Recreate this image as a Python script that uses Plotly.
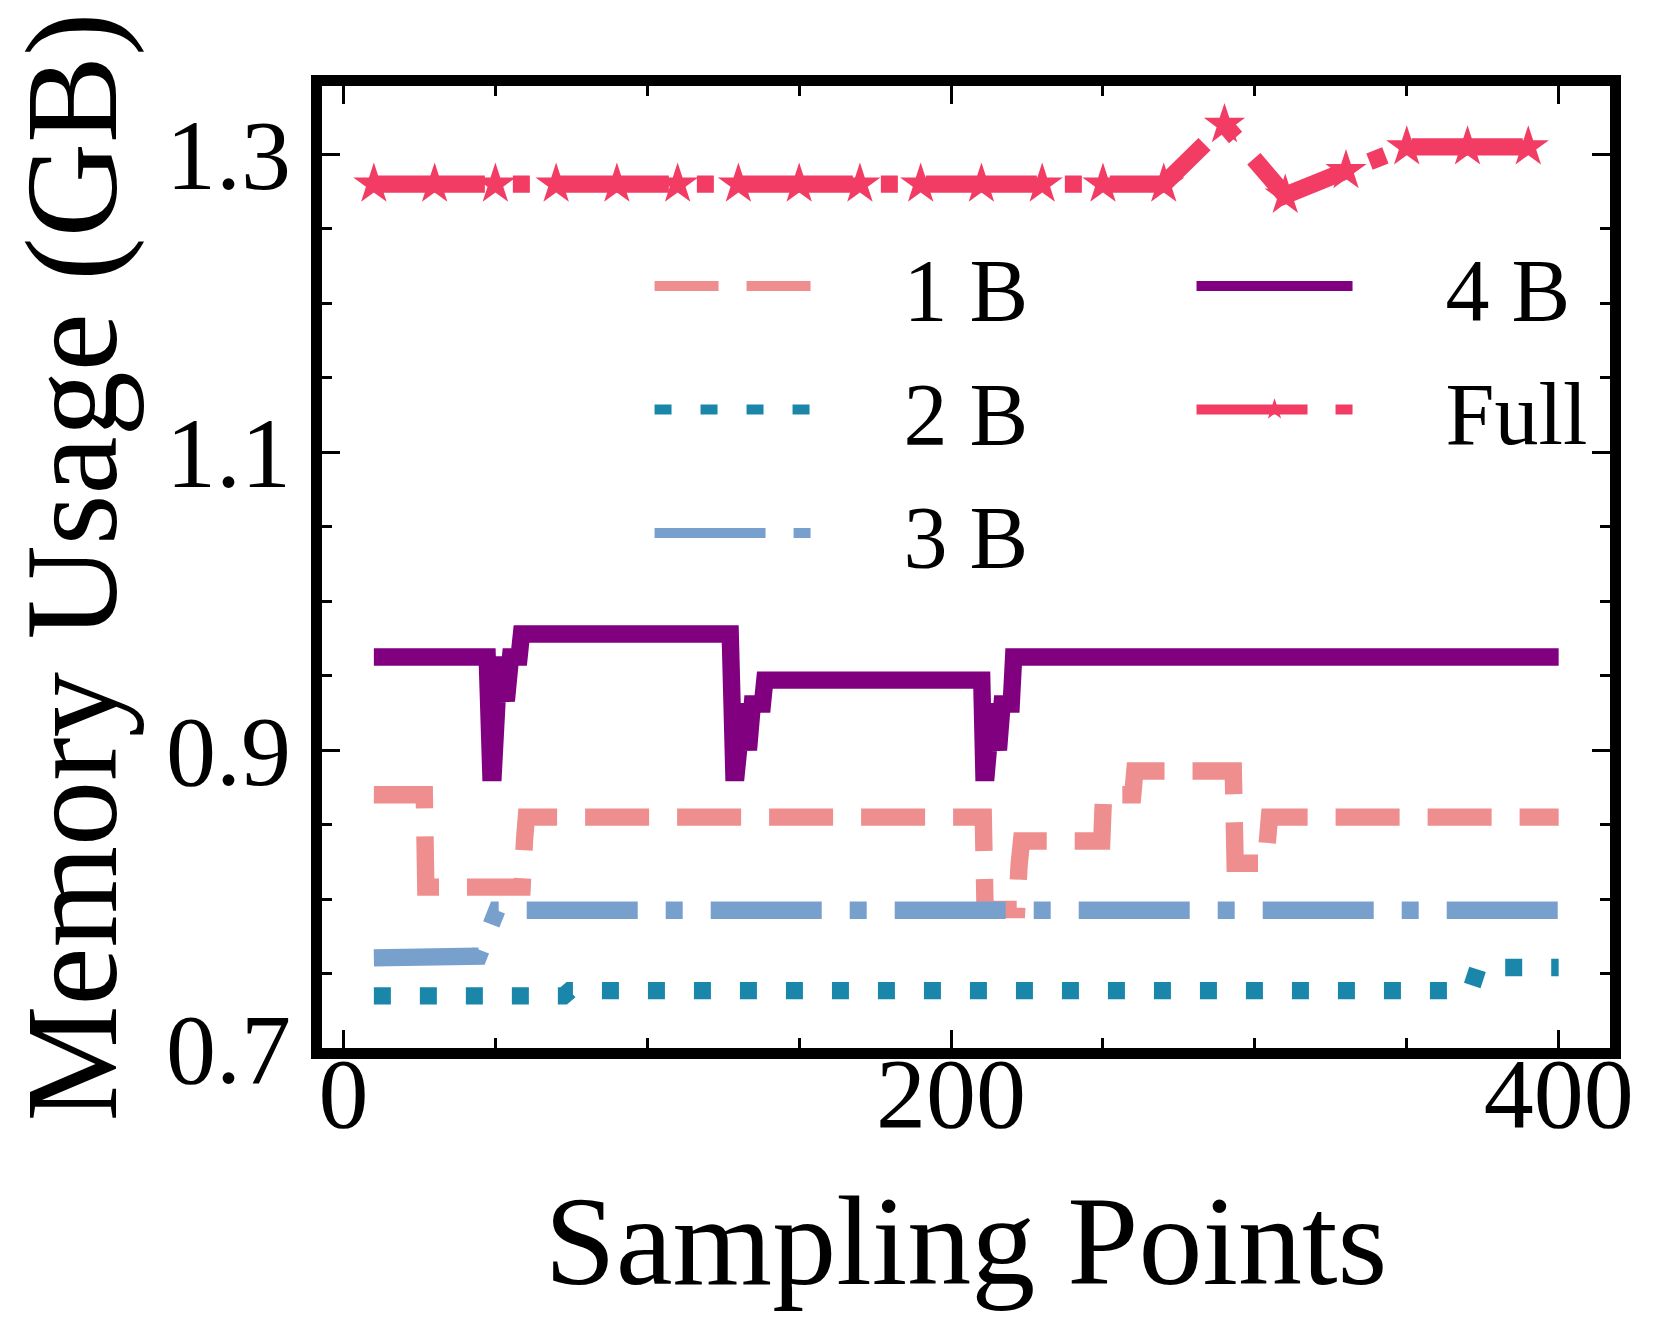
import plotly.graph_objects as go

# ---------------- data ----------------
x_1b = [10, 26.6, 27.1, 58.8, 59.6, 60.2, 210.6, 211.2, 221.6, 222.4, 223.2,
        249.6, 250.2, 259.8, 260.5, 292.9, 293.5, 303.5, 304.8, 400]
y_1b = [0.870, 0.870, 0.808, 0.808, 0.840, 0.855, 0.855, 0.793, 0.793, 0.823, 0.839,
        0.839, 0.870, 0.870, 0.886, 0.886, 0.824, 0.824, 0.855, 0.855]

x_2b = [10, 72.5, 74.5, 371, 373.5, 400]
y_2b = [0.735, 0.735, 0.7385, 0.7385, 0.754, 0.754]

x_3b = [10, 44.5, 50.5, 400]
y_3b = [0.7605, 0.7617, 0.7925, 0.7925]

x_4b = [10, 47.3, 48.5, 49.3, 51.3, 53.6, 55.0, 57.8, 58.6,
        127.3, 128.5, 129.3, 131.6, 133.3, 134.6, 137.9, 138.7,
        210.1, 210.8, 211.6, 213.6, 215.6, 216.8, 219.8, 220.6, 400]
y_4b = [0.9625, 0.9625, 0.885, 0.885, 0.9625, 0.933, 0.9625, 0.9625, 0.978,
        0.978, 0.885, 0.885, 0.931, 0.900, 0.931, 0.931, 0.947,
        0.947, 0.885, 0.885, 0.931, 0.900, 0.931, 0.931, 0.9625, 0.9625]

x_full = [10, 30, 50, 70, 90, 110, 130, 150, 170, 190,
          210, 230, 250, 270, 290, 310, 330, 350, 370, 390]
y_full = [1.280, 1.280, 1.280, 1.280, 1.280, 1.280, 1.280, 1.280, 1.280, 1.280,
          1.280, 1.280, 1.280, 1.280, 1.320, 1.2725, 1.289, 1.305, 1.305, 1.305]

x_ticks = [0, 200, 400]
y_ticks = [0.7, 0.9, 1.1, 1.3]
y_tick_text = ["0.7", "0.9", "1.1", "1.3"]

# ---------------- styling ----------------
FONT = "Liberation Serif"
LW = 17.4
GAP = "\u00a0\u00a0\u00a0\u00a0"

series = [
    dict(name="1 B", x=x_1b, y=y_1b, color="#EE8E8E", dash="64px,28px", legend="legend"),
    dict(name="2 B", x=x_2b, y=y_2b, color="#1A87AA", dash="17px,29px", legend="legend"),
    dict(name="3 B", x=x_3b, y=y_3b, color="#78A0CD", dash="111px,28px,17px,28px", legend="legend"),
    dict(name="4 B", x=x_4b, y=y_4b, color="#800080", dash="solid", legend="legend2"),
]

fig = go.Figure()
for s in series:
    fig.add_trace(go.Scatter(
        x=s["x"], y=s["y"], mode="lines", name=GAP + s["name"],
        legend=s["legend"], legendgroup=s["name"],
        line=dict(color=s["color"], width=LW, dash=s["dash"], simplify=False),
    ))

fig.add_trace(go.Scatter(
    x=x_full, y=y_full, mode="lines+markers", name=GAP + "Full",
    legend="legend2", legendgroup="Full",
    line=dict(color="#F23C64", width=LW, dash="111px,28px,17px,28px", simplify=False),
    marker=dict(symbol="star", size=31, color="#F23C64", line=dict(width=0)),
))

axis_common = dict(
    showline=True, linewidth=11, linecolor="black", mirror="allticks",
    showgrid=False, zeroline=False, automargin=False,
    ticks="inside", ticklen=18, tickwidth=3, tickcolor="black",
    tickfont=dict(family=FONT, size=100, color="black"),
)

fig.update_layout(
    width=1660, height=1327,
    margin=dict(l=321.5, r=49.5, t=86, b=279.3),
    paper_bgcolor="white", plot_bgcolor="white",
    font=dict(family=FONT, color="black"),
    xaxis=dict(
        range=[-7.07, 416.9], tickvals=x_ticks, ticktext=[str(v) for v in x_ticks],
        ticklabelstandoff=-52,
        minor=dict(dtick=50, tick0=0, ticks="inside", ticklen=10, tickwidth=2.5, tickcolor="black"),
        title=dict(text="Sampling Points", font=dict(family=FONT, size=128, color="black"), standoff=51),
        **axis_common,
    ),
    yaxis=dict(
        range=[0.7, 1.3459], tickvals=y_ticks, ticktext=y_tick_text,
        minor=dict(dtick=0.05, tick0=0.7, ticks="inside", ticklen=10, tickwidth=2.5, tickcolor="black"),
        title=dict(text="Memory Usage (GB)", font=dict(family=FONT, size=130.5, color="black"), standoff=48),
        **axis_common,
    ),
    showlegend=True,
    legend=dict(
        x=0.2543, y=0.8582, xanchor="left", yanchor="top",
        font=dict(family=FONT, size=88, color="black"),
        bgcolor="rgba(0,0,0,0)", borderwidth=0,
        itemwidth=156, tracegroupgap=6, traceorder="grouped",
    ),
    legend2=dict(
        x=0.6751, y=0.8582, xanchor="left", yanchor="top",
        font=dict(family=FONT, size=88, color="black"),
        bgcolor="rgba(0,0,0,0)", borderwidth=0,
        itemwidth=156, tracegroupgap=6, traceorder="grouped",
    ),
)

# remove the browser's default 8px page margin so the figure fills the window exactly
fig.write_html(
    "out.html",
    config={"displayModeBar": False},
    post_script="document.body.style.margin='0px';",
)
